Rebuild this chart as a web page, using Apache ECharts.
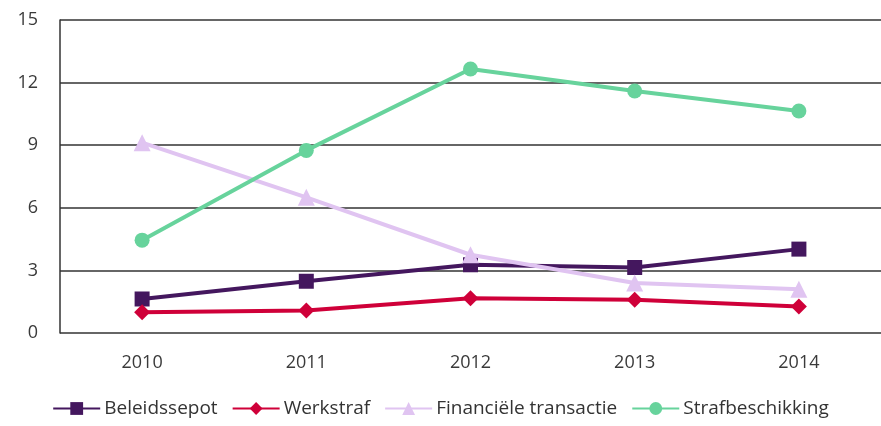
<!DOCTYPE html>
<html>
<head>
<meta charset="utf-8">
<script src="https://cdn.jsdelivr.net/npm/echarts@6/dist/echarts.min.js"></script>
<style>
  html, body { margin: 0; padding: 0; background: #fff; }
  #chart { width: 881px; height: 426px; }
</style>
</head>
<body>
<div id="chart"></div>
<script>
// Jaren op de x-as
const years = ['2010', '2011', '2012', '2013', '2014'];

// Afdoeningen per jaar
const beleidssepot = [1.63, 2.48, 3.27, 3.14, 4.02];
const werkstraf = [0.99, 1.08, 1.67, 1.59, 1.27];
const financieleTransactie = [9.12, 6.5, 3.75, 2.4, 2.1];
const strafbeschikking = [4.45, 8.75, 12.65, 11.6, 10.64];

const seriesNames = ['Beleidssepot', 'Werkstraf', 'Financiële transactie', 'Strafbeschikking'];
const seriesData = [beleidssepot, werkstraf, financieleTransactie, strafbeschikking];
const colors = ['#44175e', '#cf0039', '#e0c4f1', '#67d39c'];
const symbols = ['rect', 'diamond', 'triangle', 'circle'];
const symbolSizes = [15, 16, 17, 15];

const font = '"Open Sans", sans-serif';

const chart = echarts.init(document.getElementById('chart'));
chart.setOption({
  animation: false,
  grid: { left: 60, right: 0, top: 20, bottom: 93, containLabel: false },
  xAxis: {
    type: 'category',
    data: years,
    boundaryGap: true,
    axisLine: { show: false },
    axisTick: { show: false },
    axisLabel: { color: '#3a3a3a', fontSize: 18, fontFamily: font, margin: 21 }
  },
  yAxis: {
    type: 'value',
    min: 0, max: 15, interval: 3,
    axisLine: { show: true, lineStyle: { color: '#333', width: 1.5 } },
    axisTick: { show: false },
    axisLabel: { color: '#3a3a3a', fontSize: 18, fontFamily: font, margin: 22 },
    splitLine: { show: true, lineStyle: { color: '#333', width: 1.5 } }
  },
  legend: {
    bottom: 3,
    left: 'center',
    itemWidth: 47,
    itemHeight: 16,
    itemGap: 14,
    textStyle: { color: '#333', fontSize: 19, fontFamily: font, padding: [0, 0, 0, -1] },
    data: seriesNames
  },
  series: seriesNames.map((name, i) => ({
    name,
    type: 'line',
    data: seriesData[i],
    symbol: symbols[i],
    symbolSize: symbolSizes[i],
    showAllSymbol: true,
    lineStyle: { color: colors[i], width: 4 },
    itemStyle: { color: colors[i] },
    z: 2 + i
  }))
});
</script>
</body>
</html>
